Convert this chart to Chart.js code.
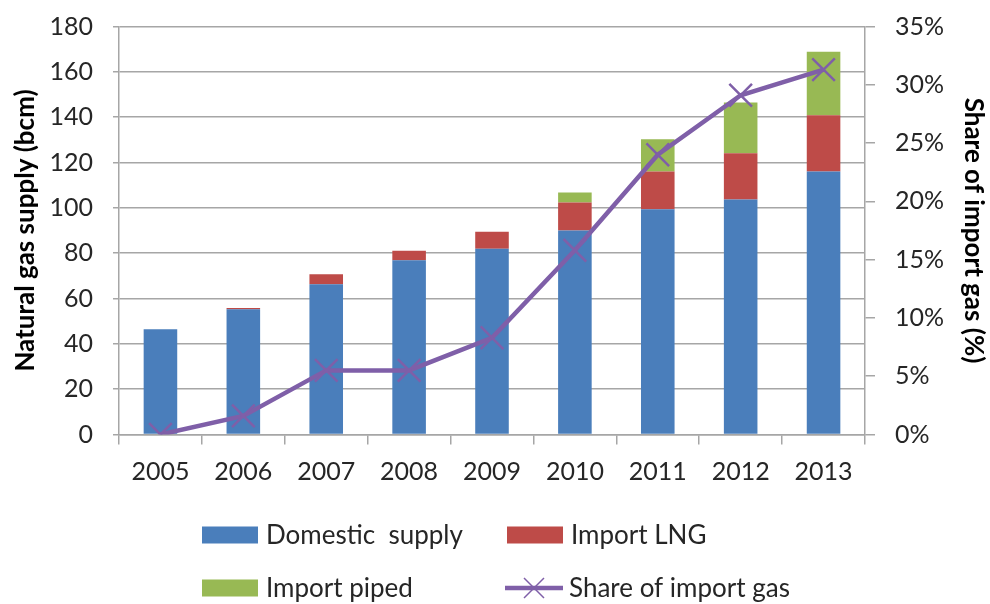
<!DOCTYPE html>
<html>
<head>
<meta charset="utf-8">
<script src="https://cdn.jsdelivr.net/npm/chart.js@4.4.0/dist/chart.umd.min.js"></script>
<style>
  html, body { margin: 0; padding: 0; background: #fff; }
  #wrap { width: 990px; height: 604px; }
</style>
</head>
<body>
<div id="wrap"><canvas id="myChart" width="990" height="604"></canvas></div>
<script>
var years = ["2005", "2006", "2007", "2008", "2009", "2010", "2011", "2012", "2013"];
var domesticSupply = [46.4, 55.3, 66.3, 76.9, 81.9, 90.0, 99.4, 103.7, 116.0];
var importLNG = [0, 0.5, 4.4, 4.2, 7.5, 12.4, 16.6, 20.4, 24.9];
var importPiped = [0, 0, 0, 0, 0, 4.4, 14.3, 22.4, 28.0];
var importShare = [0, 1.6, 5.5, 5.5, 8.3, 15.8, 24.0, 29.1, 31.3];

var FONT = "Lato, 'Liberation Sans', sans-serif";
var BLUE = "#4a7ebb", RED = "#be4b48", GREEN = "#98b954", PURPLE = "#7f5fa8";
var GRID = "#a6a6a6";
var TXT = "#262626";

// legend drawn by hand in a 2 x 2 grid like the original
var gridLegend = {
    id: "gridLegend",
    afterDraw: function (chart) {
        var ctx = chart.ctx;
        var items = [
            { text: "Domestic  supply", color: BLUE, x: 202, y: 535 },
            { text: "Import LNG", color: RED, x: 507, y: 535 },
            { text: "Import piped", color: GREEN, x: 202, y: 588 },
            { text: "Share of import gas", color: PURPLE, x: 505, y: 588, line: true }
        ];
        ctx.save();
        ctx.font = "26px " + FONT;
        ctx.textBaseline = "middle";
        items.forEach(function (it) {
            if (it.line) {
                ctx.strokeStyle = it.color;
                ctx.lineWidth = 4.5;
                ctx.beginPath();
                ctx.moveTo(it.x, it.y);
                ctx.lineTo(it.x + 58, it.y);
                ctx.stroke();
                ctx.lineWidth = 1.5;
                var cx = it.x + 29;
                ctx.beginPath();
                ctx.moveTo(cx - 10, it.y - 10); ctx.lineTo(cx + 10, it.y + 10);
                ctx.moveTo(cx + 10, it.y - 10); ctx.lineTo(cx - 10, it.y + 10);
                ctx.stroke();
            } else {
                ctx.fillStyle = it.color;
                ctx.fillRect(it.x, it.y - 8.5, 56, 17);
            }
            ctx.fillStyle = TXT;
            ctx.fillText(it.text, it.x + 64, it.y + 1);
        });
        ctx.restore();
    }
};

new Chart("myChart", {
    type: "bar",
    data: {
        labels: years,
        datasets: [{
            type: "line",
            label: "Share of import gas",
            data: importShare,
            yAxisID: "y1",
            borderColor: PURPLE,
            borderWidth: 4.5,
            pointStyle: "crossRot",
            pointRadius: 16,
            pointBorderWidth: 2.5,
            pointBorderColor: PURPLE,
            pointBackgroundColor: PURPLE,
            tension: 0,
            order: 0
        }, {
            label: "Domestic  supply",
            data: domesticSupply,
            backgroundColor: BLUE,
            order: 1
        }, {
            label: "Import LNG",
            data: importLNG,
            backgroundColor: RED,
            order: 1
        }, {
            label: "Import piped",
            data: importPiped,
            backgroundColor: GREEN,
            order: 1
        }]
    },
    options: {
        responsive: false,
        animation: false,
        devicePixelRatio: 1,
        barPercentage: 0.405,
        categoryPercentage: 1,
        layout: { padding: { top: 26.5, bottom: 109.5, left: 0, right: 0 } },
        plugins: {
            legend: { display: false },
            tooltip: { enabled: false }
        },
        scales: {
            x: {
                stacked: true,
                afterFit: function (s) { s.height = 60; },
                border: { color: GRID, width: 1.5 },
                grid: { offset: true, drawOnChartArea: false, drawTicks: true, tickLength: 10, color: GRID, lineWidth: 1.5 },
                ticks: { color: TXT, font: { family: FONT, size: 25 }, padding: 12, maxRotation: 0 }
            },
            y: {
                stacked: true,
                min: 0,
                max: 180,
                afterFit: function (s) { s.width = 119; s.paddingTop = 0; s.paddingBottom = 0; },
                border: { color: GRID, width: 1.5 },
                grid: { color: GRID, lineWidth: 1.5, tickLength: 6 },
                ticks: { stepSize: 20, color: TXT, font: { family: FONT, size: 25 }, padding: 20 },
                title: {
                    display: true,
                    text: "Natural gas supply (bcm)",
                    color: "#000",
                    font: { family: FONT, size: 26, weight: "bold" },
                    padding: { top: 10, bottom: 0 }
                }
            },
            y1: {
                position: "right",
                min: 0,
                max: 35,
                afterFit: function (s) { s.width = 125; s.paddingTop = 0; s.paddingBottom = 0; },
                border: { color: GRID, width: 1.5 },
                grid: { drawOnChartArea: false, color: GRID, lineWidth: 1.5, tickLength: 10 },
                ticks: {
                    stepSize: 5,
                    color: TXT,
                    font: { family: FONT, size: 25 },
                    padding: 20,
                    callback: function (v) { return v + "%"; }
                },
                title: {
                    display: true,
                    text: "Share of import gas (%)",
                    color: "#000",
                    font: { family: FONT, size: 26, weight: "bold" },
                    padding: { top: 1, bottom: 0 }
                }
            }
        }
    },
    plugins: [gridLegend]
});
</script>
</body>
</html>
